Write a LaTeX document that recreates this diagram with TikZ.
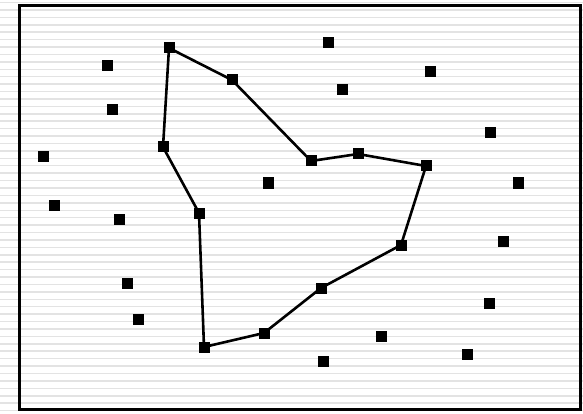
\documentclass[tikz,border=0pt]{standalone}
\begin{document}
\begin{tikzpicture}[x=1pt,y=-1pt,
  stripe/.style={draw=black!11,line width=1.5pt},
  frame/.style={draw=black,line width=3pt},
  pt/.style={rectangle,fill=black,inner sep=0pt,minimum size=11pt},
  edge/.style={draw=black,line width=2.6pt,line join=round}]
\useasboundingbox (0,0) rectangle (583,414);
\fill[white] (0,0) rectangle (583,414);
\foreach \i in {0,...,55}{
  \draw[stripe] (0,{2.5+\i*7.42}) -- (583,{2.5+\i*7.42});
}
\draw[frame] (19,6) rectangle (580,409);
% polygon vertices
\node[pt] (v1) at (169,48) {};
\node[pt] (v2) at (232,80) {};
\node[pt] (v3) at (311,161) {};
\node[pt] (v4) at (358,154) {};
\node[pt] (v5) at (426,166) {};
\node[pt] (v6) at (401,245) {};
\node[pt] (v7) at (321,288) {};
\node[pt] (v8) at (264,333) {};
\node[pt] (v9) at (204,347) {};
\node[pt] (v10) at (199,213) {};
\node[pt] (v11) at (163,147) {};
\draw[edge] (v1.center) -- (v2.center) -- (v3.center) -- (v4.center) -- (v5.center)
  -- (v6.center) -- (v7.center) -- (v8.center) -- (v9.center) -- (v10.center)
  -- (v11.center) -- (v1.center);
% free points
\node[pt] (a1) at (328,43) {};
\node[pt] (a2) at (430,72) {};
\node[pt] (a3) at (342,90) {};
\node[pt] (a4) at (107,66) {};
\node[pt] (a5) at (112,110) {};
\node[pt] (a6) at (43,157) {};
\node[pt] (a7) at (490,133) {};
\node[pt] (a8) at (518,183) {};
\node[pt] (a9) at (268,183) {};
\node[pt] (a10) at (54,205) {};
\node[pt] (a11) at (119,219) {};
\node[pt] (a12) at (503,241) {};
\node[pt] (a13) at (127,283) {};
\node[pt] (a14) at (138,319) {};
\node[pt] (a15) at (489,303) {};
\node[pt] (a16) at (381,336) {};
\node[pt] (a17) at (467,354) {};
\node[pt] (a18) at (323,361) {};
\end{tikzpicture}
\end{document}
